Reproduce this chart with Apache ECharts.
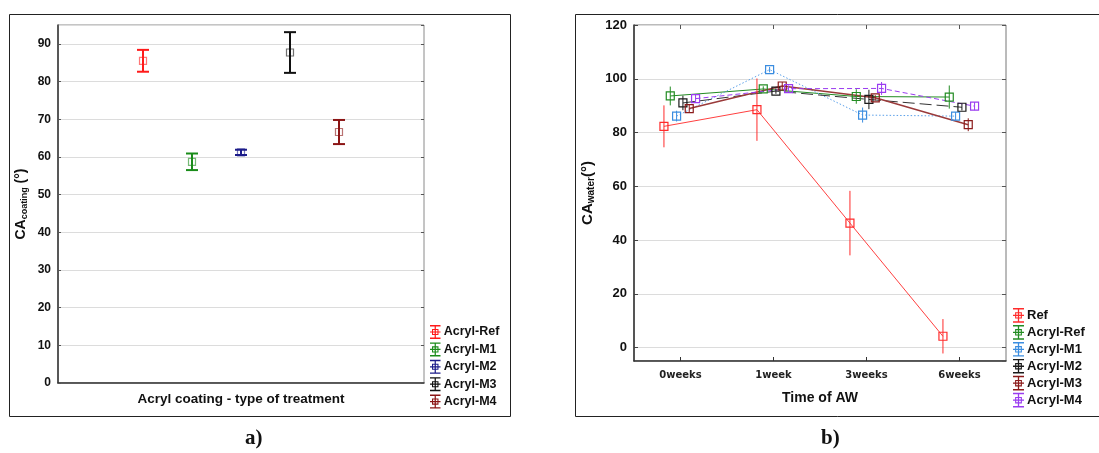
<!DOCTYPE html>
<html>
<head>
<meta charset="utf-8">
<script src="https://cdn.jsdelivr.net/npm/echarts@6/dist/echarts.min.js"></script>
<style>
  html, body { margin: 0; padding: 0; background: #fff; }
  #main { width: 1099px; height: 453px; }
</style>
</head>
<body>
<div id="main"></div>
<script>
// panel a - contact angle of the coatings
var groupsA = ['Acryl-Ref', 'Acryl-M1', 'Acryl-M2', 'Acryl-M3', 'Acryl-M4'];
var meanA = [85.5, 58.7, 61.2, 87.7, 66.6];
var sdA = [2.9, 2.2, 0.7, 5.4, 3.2];
var ticksA = [0, 10, 20, 30, 40, 50, 60, 70, 80, 90];

// panel b - contact angle vs. time of AW
var weeks = ['0weeks', '1week', '3weeks', '6weeks'];
var groupsB = ['Ref', 'Acryl-Ref', 'Acryl-M1', 'Acryl-M2', 'Acryl-M3', 'Acryl-M4'];
var refB = [82.3, 88.5, 46.3, 4.2];
var refSd = [7.8, 11.6, 12.0, 6.4];
var acrylRefB = [93.6, 96.2, 93.4, 93.2];
var acrylRefSd = [3.5, 1.0, 2.7, 4.3];
var m1B = [86.1, 103.4, 86.5, 86.1];
var m1Sd = [2.0, 1.0, 2.8, 1.5];
var m2B = [91.0, 95.4, 92.3, 89.4];
var m2Sd = [2.7, 1.0, 3.6, 1.2];
var m3B = [88.9, 97.3, 92.9, 82.9];
var m3Sd = [1.5, 1.5, 1.0, 2.4];
var m4B = [92.6, 96.3, 96.4, 89.8];
var m4Sd = [1.5, 1.2, 2.4, 1.5];
var ticksB = [0, 20, 40, 60, 80, 100, 120];

var valsB = [refB, acrylRefB, m1B, m2B, m3B, m4B];
var sdsB = [refSd, acrylRefSd, m1Sd, m2Sd, m3Sd, m4Sd];

var colorsA = ['#ff1a1a', '#1a8c1a', '#1c1c8a', '#111111', '#8b1414'];
var colorsB = ['#ff2b2b', '#238c23', '#3b8de0', '#1a1a1a', '#8b1a1a', '#9a3cf0'];
var dashB = ['solid', 'solid', [1.5, 2], [12, 5], 'solid', [5, 3]];
var lineColB = ['#ff4040', '#238c23', '#5aa0ea', '#333333', '#9a3a3a', '#9a3cf0'];

var FONT = 'Liberation Sans, Arial, sans-serif';
var ICON = 'path://M0,0H12V1.6H0Z M0,14.4H12V16H0Z M5.3,0H6.7V16H5.3Z M0,7.3H12V8.7H0Z M2.3,4.5H9.7V11.5H2.3Z M3.5,5.7V10.3H8.5V5.7Z';

function errorBar(capW, lw, box, markOpacity) {
    return function(params, api) {
        var x = api.value(0);
        var p = api.coord([x, api.value(1)]);
        var lo = api.coord([x, api.value(2)]);
        var hi = api.coord([x, api.value(3)]);
        var color = api.visual('color');
        var kids = [{
            type: 'line',
            shape: { x1: p[0], y1: hi[1], x2: p[0], y2: lo[1] },
            style: { stroke: color, lineWidth: lw }
        }];
        if (capW) {
            kids.push({
                type: 'line',
                shape: { x1: p[0] - capW / 2, y1: hi[1], x2: p[0] + capW / 2, y2: hi[1] },
                style: { stroke: color, lineWidth: lw }
            }, {
                type: 'line',
                shape: { x1: p[0] - capW / 2, y1: lo[1], x2: p[0] + capW / 2, y2: lo[1] },
                style: { stroke: color, lineWidth: lw }
            });
        }
        kids.push({
            type: 'rect',
            shape: { x: p[0] - box / 2, y: p[1] - box / 2, width: box, height: box },
            style: { fill: 'rgba(255,255,255,0)', stroke: color, lineWidth: 1.2, opacity: markOpacity }
        });
        return { type: 'group', children: kids };
    };
}

var series = [];

// panel a: one errorbar series per coating, placed at 1..5
groupsA.forEach(function(name, i) {
    series.push({
        name: name,
        type: 'custom',
        xAxisIndex: 0,
        yAxisIndex: 0,
        itemStyle: { color: colorsA[i] },
        renderItem: errorBar(12, 2, 7, 0.6),
        data: [[i + 1, meanA[i], meanA[i] - sdA[i], meanA[i] + sdA[i]]],
        z: 3
    });
});

// panel b: errorbars + connecting lines, slightly shifted per group
groupsB.forEach(function(name, j) {
    var shift = (j - 2.5) * 0.068 - 0.008;
    series.push({
        name: name,
        type: 'custom',
        xAxisIndex: 2,
        yAxisIndex: 2,
        itemStyle: { color: colorsB[j] },
        renderItem: errorBar(0, 1, 8, 1),
        data: weeks.map(function(w, i) {
            return [i + shift, valsB[j][i], valsB[j][i] - sdsB[j][i], valsB[j][i] + sdsB[j][i]];
        }),
        z: 4
    });
});
groupsB.forEach(function(name, j) {
    var shift = (j - 2.5) * 0.068 - 0.008;
    series.push({
        name: name,
        type: 'line',
        xAxisIndex: 2,
        yAxisIndex: 2,
        showSymbol: false,
        lineStyle: { color: lineColB[j], width: j === 4 ? 1.5 : 1, type: dashB[j] },
        itemStyle: { color: colorsB[j] },
        data: weeks.map(function(w, i) { return [i + shift, valsB[j][i]]; }),
        z: 2
    });
});

var myChart = echarts.init(document.getElementById('main'));
var option = {
    animation: false,
    backgroundColor: '#fff',
    textStyle: { fontFamily: FONT },
    grid: [
        { left: 58, top: 25, width: 366, height: 358, show: true, borderColor: '#8a8a8a', borderWidth: 1 },
        { left: 634, top: 25, width: 372, height: 336, show: true, borderColor: '#777', borderWidth: 1 }
    ],
    xAxis: [{
        gridIndex: 0,
        type: 'value',
        min: -0.735,
        max: 6.735,
        axisLine: { show: true, onZero: false, lineStyle: { color: '#333', width: 1.5 } },
        axisTick: { show: false },
        axisLabel: { show: false },
        splitLine: { show: false },
        name: 'Acryl coating - type of treatment',
        nameLocation: 'middle',
        nameGap: 9,
        nameTextStyle: { fontFamily: FONT, fontWeight: 'bold', fontSize: 13.5, color: '#111' }
    }, {
        gridIndex: 1,
        type: 'category',
        data: weeks,
        boundaryGap: true,
        axisLine: { show: true, onZero: false, lineStyle: { color: '#333', width: 1.5 } },
        axisTick: { show: true, alignWithLabel: true, inside: true, length: 4, lineStyle: { color: '#333' } },
        axisLabel: { fontFamily: 'DejaVu Sans', fontWeight: 'bold', fontSize: 10, color: '#222', margin: 9 },
        splitLine: { show: false },
        name: 'Time of AW',
        nameLocation: 'middle',
        nameGap: 30,
        nameTextStyle: { fontFamily: FONT, fontWeight: 'bold', fontSize: 14, color: '#111' }
    }, {
        gridIndex: 1,
        type: 'value',
        min: -0.5,
        max: 3.5,
        show: false
    }, {
        gridIndex: 1,
        type: 'category',
        position: 'top',
        data: weeks,
        boundaryGap: true,
        axisLine: { show: false, onZero: false },
        axisTick: { show: true, alignWithLabel: true, inside: true, length: 4, lineStyle: { color: '#555' } },
        axisLabel: { show: false },
        splitLine: { show: false }
    }],
    yAxis: [{
        gridIndex: 0,
        type: 'value',
        min: 0,
        max: 95,
        interval: 10,
        axisLine: { show: true, onZero: false, lineStyle: { color: '#333', width: 1.5 } },
        axisTick: { show: true, inside: true, length: 3, lineStyle: { color: '#555' } },
        axisLabel: {
            fontFamily: FONT, fontWeight: 'bold', fontSize: 12, color: '#111', margin: 7,
            showMaxLabel: false,
            formatter: function(v) { return ticksA.indexOf(v) >= 0 ? String(v) : ''; }
        },
        splitLine: { show: true, lineStyle: { color: '#dcdcdc', width: 1 } },
        name: '{b|CA}{s|coating}{b| (°)}',
        nameLocation: 'middle',
        nameGap: 29,
        nameTextStyle: {
            rich: {
                b: { fontFamily: FONT, fontWeight: 'bold', fontSize: 14, color: '#111' },
                s: { fontFamily: FONT, fontWeight: 'bold', fontSize: 9, color: '#111', padding: [7, 0, 0, 0] }
            }
        }
    }, {
        gridIndex: 0,
        type: 'value',
        position: 'right',
        min: 0,
        max: 95,
        interval: 10,
        axisLine: { show: false, onZero: false },
        axisTick: { show: true, inside: true, length: 3, lineStyle: { color: '#555' } },
        axisLabel: { show: false },
        splitLine: { show: false }
    }, {
        gridIndex: 1,
        type: 'value',
        min: -5,
        max: 120,
        splitNumber: 6,
        axisLine: { show: true, onZero: false, lineStyle: { color: '#333', width: 1.5 } },
        axisTick: { show: true, inside: true, length: 4, lineStyle: { color: '#444' } },
        axisLabel: {
            fontFamily: FONT, fontWeight: 'bold', fontSize: 13, color: '#111', margin: 7,
            showMinLabel: false,
            formatter: function(v) { return ticksB.indexOf(v) >= 0 ? String(v) : ''; }
        },
        splitLine: { show: true, lineStyle: { color: '#dcdcdc', width: 1 } },
        name: '{b|CA}{s|water}{b|(°)}',
        nameLocation: 'middle',
        nameGap: 38,
        nameTextStyle: {
            rich: {
                b: { fontFamily: FONT, fontWeight: 'bold', fontSize: 15, color: '#111' },
                s: { fontFamily: FONT, fontWeight: 'bold', fontSize: 10, color: '#111', padding: [7, 0, 0, 0] }
            }
        }
    }, {
        gridIndex: 1,
        type: 'value',
        position: 'right',
        min: -5,
        max: 120,
        splitNumber: 6,
        axisLine: { show: false, onZero: false },
        axisTick: { show: true, inside: true, length: 4, lineStyle: { color: '#555' } },
        axisLabel: { show: false },
        splitLine: { show: false }
    }],
    legend: [{
        orient: 'vertical',
        left: 430,
        top: 325,
        padding: 0,
        itemGap: 3.4,
        itemWidth: 11,
        itemHeight: 14,
        icon: ICON,
        selectedMode: false,
        itemStyle: { borderWidth: 0 },
        textStyle: { fontFamily: FONT, fontWeight: 'bold', fontSize: 12.5, color: '#111', padding: [0, 0, 0, -2] },
        data: groupsA.map(function(n, i) { return { name: n, itemStyle: { color: colorsA[i] } }; })
    }, {
        orient: 'vertical',
        left: 1013,
        top: 308,
        padding: 0,
        itemGap: 2.3,
        itemWidth: 11,
        itemHeight: 15,
        icon: ICON,
        selectedMode: false,
        itemStyle: { borderWidth: 0 },
        textStyle: { fontFamily: FONT, fontWeight: 'bold', fontSize: 13, color: '#111', padding: [0, 0, 0, -2] },
        data: groupsB.map(function(n, j) { return { name: n, itemStyle: { color: colorsB[j] } }; })
    }],
    graphic: [
        { type: 'rect', left: 7, top: 12, shape: { width: 501, height: 402 }, style: { fill: 'none', stroke: '#222', lineWidth: 1 }, silent: true },
        { type: 'rect', left: 573, top: 12, shape: { width: 540, height: 402 }, style: { fill: 'none', stroke: '#222', lineWidth: 1 }, silent: true },
        { type: 'text', left: 245, top: 428, style: { text: 'a)', font: 'bold 21px "Liberation Serif", "Times New Roman", serif', fill: '#111' } },
        { type: 'text', left: 821, top: 428, style: { text: 'b)', font: 'bold 21px "Liberation Serif", "Times New Roman", serif', fill: '#111' } }
    ],
    series: series
};

myChart.setOption(option);
</script>
</body>
</html>
